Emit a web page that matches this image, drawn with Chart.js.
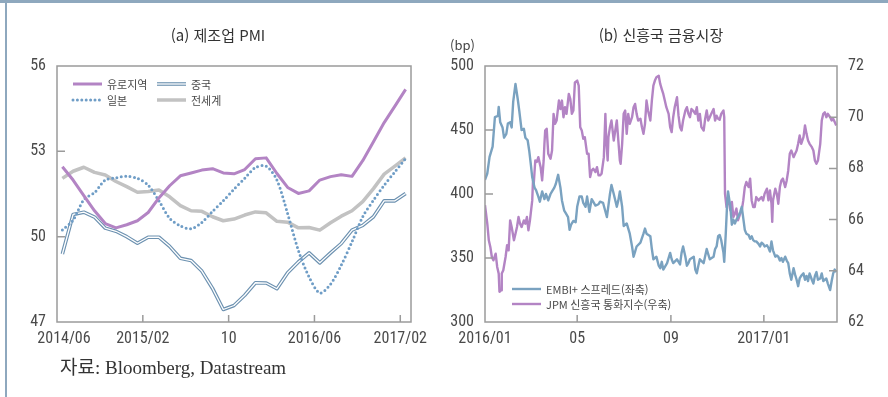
<!DOCTYPE html>
<html lang="ko">
<head>
<meta charset="utf-8">
<title>제조업 PMI · 신흥국 금융시장</title>
<script src="https://cdn.jsdelivr.net/npm/chart.js@4.4.1/dist/chart.umd.min.js"></script>
<style>
  html, body { margin: 0; padding: 0; background: #fff; }
  #page { position: relative; width: 888px; height: 397px; overflow: hidden; background: #fff; }
  #page canvas { position: absolute; top: 0; }
  #pmiChart { left: 0; }
  #emChart { left: 444px; }
  .rule-top { position: absolute; left: 0; top: 0; width: 888px; height: 3px; background: #8ea8be; }
  .rule-left { position: absolute; left: 5px; top: 0; width: 2px; height: 397px; background: #8ea8be; }
  .title { position: absolute; top: 25px; width: 240px; text-align: center;
           font: 15px/20px 'Noto Sans CJK KR', sans-serif; color: #333; }
  .unit { position: absolute; left: 450px; top: 36px; font: 13px/18px 'Noto Sans CJK KR', sans-serif; color: #444; }
  .source { position: absolute; left: 60px; top: 357px; font: 19px/22px 'Liberation Serif', 'Noto Sans CJK KR', serif; color: #333; }
</style>
</head>
<body>
<div id="page">
  <canvas id="pmiChart" width="444" height="397"></canvas>
  <canvas id="emChart" width="444" height="397"></canvas>
  <div class="title" style="left:98px">(a) 제조업 PMI</div>
  <div class="title" style="left:541px">(b) 신흥국 금융시장</div>
  <div class="unit">(bp)</div>
  <div class="source">자료: Bloomberg, Datastream</div>
  <div class="rule-top"></div>
  <div class="rule-left"></div>
</div>
<script>
// ---------- (a) Manufacturing PMI, monthly ----------
const pmiMonths = [
  '2014/06','2014/07','2014/08','2014/09','2014/10','2014/11','2014/12',
  '2015/01','2015/02','2015/03','2015/04','2015/05','2015/06','2015/07','2015/08','2015/09','2015/10','2015/11','2015/12',
  '2016/01','2016/02','2016/03','2016/04','2016/05','2016/06','2016/07','2016/08','2016/09','2016/10','2016/11','2016/12',
  '2017/01','2017/02'
];
const pmiSeriesNames = ['유로지역', '중국', '일본', '전세계'];
const pmiEuroArea = [52.46,51.99,51.44,50.91,50.46,50.31,50.42,50.56,50.85,51.36,51.79,52.14,52.24,52.34,52.39,52.24,52.21,
                     52.36,52.74,52.77,52.22,51.73,51.52,51.61,51.99,52.11,52.18,52.12,52.67,53.34,54.01,54.59,55.18];
const pmiChina    = [49.39,50.78,50.86,50.69,50.3,50.19,50.0,49.77,49.98,49.98,49.66,49.24,49.16,48.79,48.18,47.44,47.58,
                     47.94,48.38,48.37,48.17,48.73,49.11,49.43,49.08,49.43,49.76,50.23,50.4,50.7,51.26,51.26,51.52];
const pmiJapan    = [50.23,50.58,51.3,51.55,51.99,52.07,52.12,52.05,51.81,51.26,50.65,50.38,50.28,50.5,50.89,51.26,51.67,
                     52.05,52.43,52.48,51.99,50.81,49.52,48.58,48.02,48.33,49.0,49.82,50.7,51.28,51.81,52.28,52.75];
const pmiWorld    = [52.05,52.3,52.44,52.26,52.17,51.94,51.76,51.56,51.59,51.64,51.4,51.09,50.91,50.89,50.7,50.56,50.62,
                     50.76,50.87,50.84,50.54,50.51,50.31,50.32,50.23,50.49,50.72,50.91,51.23,51.69,52.2,52.48,52.77];
const pmiTickMonths = ['2014/06','2015/02','2015/10','2016/06','2017/02'];
const pmiTickText   = ['2014/06','2015/02','10','2016/06','2017/02'];
const pmiYTicks     = [47, 50, 53, 56];

// ---------- (b) Emerging-market financial markets, daily (day count from 2016-01-01) ----------
const emSeriesNames = ['EMBI+ 스프레드(좌축)', 'JPM 신흥국 통화지수(우축)'];
const embiDay = [
  0,3,6,10,13,17,18,20,23,25,28,30,33,35,37,40,43,45,48,51,53,56,58,60,62,65,67,70,72,75,78,80,83,86,88,91,93,96,99,101,
  104,106,109,111,113,116,119,121,124,127,129,132,134,137,140,142,145,149,
  151,155,160,164,166,169,173,175,177,180,182,186,190,193,195,197,199,204,208,210,212,217,219,221,225,228,230,232,234,239,
  243,245,247,252,256,258,260,263,265,267,269,274,276,278,280,282,287,291,295,300,302,304,306,308,
  310,313,314,316,318,319,322,324,326,328,330,332,335,337,339,341,343,346,348,350,352,354,356,359,361,363,365,367,370,372,
  374,376,378,381,383,385,387,389,391,394,396,398,400,402,405,407,409,411,413,415,418,420,422,424,426,429,431,433,435,437,
  440,442,444,446,448,450,453,455,457,459,461
];
const embiSpread = [
  411,416,429,437,460,461,468,456,452,444,447,455,456,452,472,486,474,465,450,451,444,442,434,424,413,405,403,398,394,402,
  396,400,395,400,402,405,408,415,405,395,387,385,382,372,376,379,378,390,398,398,393,390,398,386,396,394,391,392,
  394,393,382,400,407,400,390,395,402,390,375,377,369,359,351,355,359,362,369,373,369,367,357,349,351,344,342,347,341,346,
  354,349,346,349,345,354,359,351,344,346,349,351,341,338,344,349,346,357,349,351,357,359,367,368,
  364,354,347,369,395,402,390,376,380,377,380,382,386,390,381,372,369,368,365,367,364,363,363,361,359,362,361,359,360,358,
  355,363,356,351,352,351,348,350,347,351,348,346,338,333,342,337,333,328,334,336,338,333,336,332,338,333,330,336,339,333,
  334,338,332,333,334,330,325,332,338,341,339
];
const fxDay = [
  0,3,5,7,9,11,14,16,18,19,21,22,24,27,29,31,33,35,38,40,42,44,46,48,51,53,55,57,59,62,63,64,66,68,70,73,75,77,78,79,
  81,83,86,88,90,92,94,97,99,101,103,105,107,110,112,114,116,118,121,123,125,127,129,131,134,136,138,140,142,145,147,149,
  151,153,156,158,159,161,162,164,166,169,171,173,175,177,178,180,182,184,186,188,190,193,195,197,199,201,204,206,208,210,
  212,214,217,219,221,223,225,228,230,232,234,236,238,241,243,245,247,249,252,254,256,258,260,263,265,267,269,271,273,276,
  278,280,282,284,287,289,291,293,295,297,300,302,304,306,308,
  310,313,314,315,317,319,322,324,326,328,330,332,335,337,339,341,343,346,348,350,352,354,356,359,361,363,365,367,370,372,
  374,376,377,378,381,383,385,387,389,391,394,396,398,400,402,405,407,409,411,413,415,418,420,422,424,426,429,431,433,435,
  437,440,442,444,446,448,450,453,455,457,459,461
];
const fxIndex = [
  66.56,65.84,65.19,64.93,64.54,64.41,64.67,64.15,63.89,63.18,63.24,63.89,64.02,64.54,65.0,64.8,65.97,65.71,65.19,65.45,
  65.71,66.1,65.84,65.71,65.97,65.84,66.1,65.58,65.97,66.75,67.53,67.4,68.31,68.25,68.44,68.05,67.53,68.31,68.96,69.48,
  69.55,68.57,68.38,68.7,70.13,69.74,69.87,70.65,70.32,70.65,70.0,70.39,70.13,70.91,70.71,70.13,70.26,71.36,71.43,71.23,
  69.61,69.48,69.16,69.22,68.57,68.57,67.66,67.92,67.99,67.86,68.05,67.73,
  67.73,67.79,68.44,70.13,69.22,68.31,69.22,69.61,69.87,69.09,69.48,69.87,69.09,68.31,68.18,68.96,70.13,70.26,69.35,70.13,
  69.74,70.0,70.39,70.52,70.13,69.87,69.94,69.61,69.35,69.74,70.65,70.26,69.87,70.65,71.23,71.43,71.56,71.62,71.3,71.1,
  70.91,70.65,70.39,70.13,69.61,69.42,70.0,70.39,70.78,70.06,69.61,69.48,69.87,70.26,70.39,70.13,70.0,70.32,70.26,70.13,
  70.39,69.87,70.13,69.61,69.48,69.94,70.26,69.87,70.0,70.13,70.32,69.87,70.06,69.94,69.9,
  70.13,70.26,70.0,67.01,66.49,66.88,66.36,66.69,66.1,66.23,66.43,65.97,66.23,66.36,66.75,67.27,67.47,67.27,67.6,66.75,
  66.49,66.49,66.88,66.75,66.82,66.88,66.75,67.01,67.21,66.75,67.14,66.62,65.91,66.75,67.21,67.01,66.62,67.27,67.53,67.6,
  67.27,67.53,67.92,68.57,68.7,68.44,68.57,68.7,68.96,69.29,68.96,69.22,69.68,69.35,69.09,68.96,68.83,68.7,68.31,68.18,
  68.31,68.96,69.87,70.13,70.19,70.0,70.13,70.0,69.87,69.94,69.81,69.68
];
const emLastDay = 462;
const emTickDays = [0, 121, 244, 366];
const emTickText = ['2016/01', '05', '09', '2017/01'];
const spreadTicks = [300, 350, 400, 450, 500];
const fxTicks = [62, 64, 66, 68, 70, 72];

// ---------- shared styling ----------
const TICK_FONT = "'Liberation Sans Narrow', 'Roboto Condensed', Roboto, sans-serif";
const LEGEND_FONT = "11px 'Noto Sans CJK KR', sans-serif";
const TEXT_COLOR = '#4a4a4a';
const FRAME_COLOR = '#9b9b9b';
const PURPLE = '#b384c4';
const STEEL = '#7aa2c0';

// frame around the plot area plus short inward tick marks
const frameAndTicks = {
  id: 'frameAndTicks',
  afterDatasetsDraw(chart) {
    const { ctx, chartArea: a } = chart;
    ctx.save();
    ctx.strokeStyle = FRAME_COLOR;
    ctx.lineWidth = 1.5;
    ctx.setLineDash([]);
    ctx.strokeRect(a.left, a.top, a.right - a.left, a.bottom - a.top);
    ctx.beginPath();
    Object.values(chart.scales).forEach(s => {
      s.ticks.forEach(t => {
        const p = s.getPixelForValue(t.value);
        if (s.isHorizontal()) {
          if (p <= a.left + 1 || p >= a.right - 1) return;
          ctx.moveTo(p, a.bottom); ctx.lineTo(p, a.bottom - 7);
        } else {
          if (p >= a.bottom - 1 || p <= a.top + 1) return;
          if (s.position === 'left') { ctx.moveTo(a.left, p); ctx.lineTo(a.left + 8, p); }
          else { ctx.moveTo(a.right, p); ctx.lineTo(a.right - 8, p); }
        }
      });
    });
    ctx.stroke();
    ctx.restore();
  }
};

// bottom axis labels, centred on their ticks (first one nudged clear of the corner)
const bottomLabels = {
  id: 'bottomLabels',
  afterDraw(chart, args, opts) {
    const { ctx } = chart;
    const s = chart.scales.x;
    ctx.save();
    ctx.font = '16px ' + TICK_FONT;
    ctx.fillStyle = TEXT_COLOR;
    ctx.textAlign = 'center';
    ctx.textBaseline = 'middle';
    s.ticks.forEach((t, i) => {
      const x = s.getPixelForValue(t.value) + (i === 0 ? opts.firstShift : 0);
      ctx.fillText(opts.text[i], x, opts.y);
    });
    ctx.restore();
  }
};

// legend drawn inside the plot area
const insetLegend = {
  id: 'insetLegend',
  afterDraw(chart, args, opts) {
    const { ctx } = chart;
    ctx.save();
    ctx.font = LEGEND_FONT;
    ctx.fillStyle = TEXT_COLOR;
    ctx.textBaseline = 'middle';
    opts.items.forEach(it => {
      const x0 = it.x, x1 = it.x + 29, y = it.y;
      it.layers.forEach(idx => {
        const ds = chart.data.datasets[idx];
        ctx.beginPath();
        ctx.setLineDash(ds.borderDash || []);
        ctx.lineCap = ds.borderCapStyle || 'butt';
        ctx.strokeStyle = ds.borderColor;
        ctx.lineWidth = ds.borderWidth;
        ctx.moveTo(x0, y); ctx.lineTo(x1, y);
        ctx.stroke();
      });
      ctx.setLineDash([]);
      ctx.fillText(it.label, x1 + 5, y + 0.5);
    });
    ctx.restore();
  }
};

const fixedTicks = values => scale => { scale.ticks = values.map(v => ({ value: v })); };
const yTickStyle = { font: { family: TICK_FONT, size: 16 }, color: TEXT_COLOR, padding: 11 };
const noGrid = { display: false, drawTicks: false };

// ---------- chart (a) ----------
const monthPoints = arr => arr.map((v, i) => ({ x: i + 0.5, y: v }));

new Chart(document.getElementById('pmiChart'), {
  type: 'line',
  data: {
    datasets: [
      { label: pmiSeriesNames[0], data: monthPoints(pmiEuroArea), borderColor: PURPLE, borderWidth: 3,
        pointRadius: 0, tension: 0, borderJoinStyle: 'round', order: 0 },
      { label: pmiSeriesNames[2], data: monthPoints(pmiJapan), borderColor: '#6f9dc6', borderWidth: 3,
        borderDash: [0, 4.4], borderCapStyle: 'round', pointRadius: 0, tension: 0.3, order: 1 },
      { label: pmiSeriesNames[1], data: monthPoints(pmiChina), borderColor: '#ffffff', borderWidth: 1.3,
        pointRadius: 0, tension: 0, borderJoinStyle: 'round', order: 2 },
      { label: pmiSeriesNames[1], data: monthPoints(pmiChina), borderColor: '#6c91b0', borderWidth: 3.6,
        pointRadius: 0, tension: 0, borderJoinStyle: 'round', order: 3 },
      { label: pmiSeriesNames[3], data: monthPoints(pmiWorld), borderColor: '#c2c2c2', borderWidth: 3.5,
        pointRadius: 0, tension: 0, borderJoinStyle: 'round', order: 4 }
    ]
  },
  options: {
    responsive: false,
    animation: false,
    events: [],
    layout: { padding: { left: 0, right: 33, top: 66, bottom: 0 } },
    plugins: {
      legend: { display: false },
      tooltip: { enabled: false },
      bottomLabels: { text: pmiTickText, y: 339, firstShift: 7 },
      insetLegend: {
        items: [
          { label: pmiSeriesNames[0], x: 73, y: 84, layers: [0] },
          { label: pmiSeriesNames[1], x: 157, y: 84, layers: [3, 2] },
          { label: pmiSeriesNames[2], x: 73, y: 100, layers: [1] },
          { label: pmiSeriesNames[3], x: 157, y: 100, layers: [4] }
        ]
      }
    },
    scales: {
      x: {
        type: 'linear', min: 0, max: pmiMonths.length,
        afterBuildTicks: fixedTicks(pmiTickMonths.map(m => pmiMonths.indexOf(m))),
        ticks: { display: false },
        grid: noGrid, border: { display: false },
        afterFit: s => { s.height = 75; }
      },
      y: {
        min: 47, max: 56,
        afterBuildTicks: fixedTicks(pmiYTicks),
        ticks: yTickStyle,
        grid: noGrid, border: { display: false },
        afterFit: s => { s.width = 57; }
      }
    }
  },
  plugins: [frameAndTicks, bottomLabels, insetLegend]
});

// ---------- chart (b) ----------
const dayPoints = (days, vals) => days.map((d, i) => ({ x: d, y: vals[i] }));

new Chart(document.getElementById('emChart'), {
  type: 'line',
  data: {
    datasets: [
      { label: emSeriesNames[0], data: dayPoints(embiDay, embiSpread), yAxisID: 'y',
        borderColor: STEEL, borderWidth: 2.4, pointRadius: 0, tension: 0, borderJoinStyle: 'round', order: 0 },
      { label: emSeriesNames[1], data: dayPoints(fxDay, fxIndex), yAxisID: 'y2',
        borderColor: PURPLE, borderWidth: 2.4, pointRadius: 0, tension: 0, borderJoinStyle: 'round', order: 1 }
    ]
  },
  options: {
    responsive: false,
    animation: false,
    events: [],
    layout: { padding: { left: 0, right: 0, top: 66, bottom: 0 } },
    plugins: {
      legend: { display: false },
      tooltip: { enabled: false },
      bottomLabels: { text: emTickText, y: 339, firstShift: 0 },
      insetLegend: {
        items: [
          { label: emSeriesNames[0], x: 68, y: 289, layers: [0] },
          { label: emSeriesNames[1], x: 68, y: 304, layers: [1] }
        ]
      }
    },
    scales: {
      x: {
        type: 'linear', min: 0, max: emLastDay,
        afterBuildTicks: fixedTicks(emTickDays),
        ticks: { display: false },
        grid: noGrid, border: { display: false },
        afterFit: s => { s.height = 75; }
      },
      y: {
        position: 'left', min: 300, max: 500,
        afterBuildTicks: fixedTicks(spreadTicks),
        ticks: yTickStyle,
        grid: noGrid, border: { display: false },
        afterFit: s => { s.width = 41; }
      },
      y2: {
        position: 'right', min: 62, max: 72,
        afterBuildTicks: fixedTicks(fxTicks),
        ticks: yTickStyle,
        grid: noGrid, border: { display: false },
        afterFit: s => { s.width = 51; }
      }
    }
  },
  plugins: [frameAndTicks, bottomLabels, insetLegend]
});
</script>
</body>
</html>
